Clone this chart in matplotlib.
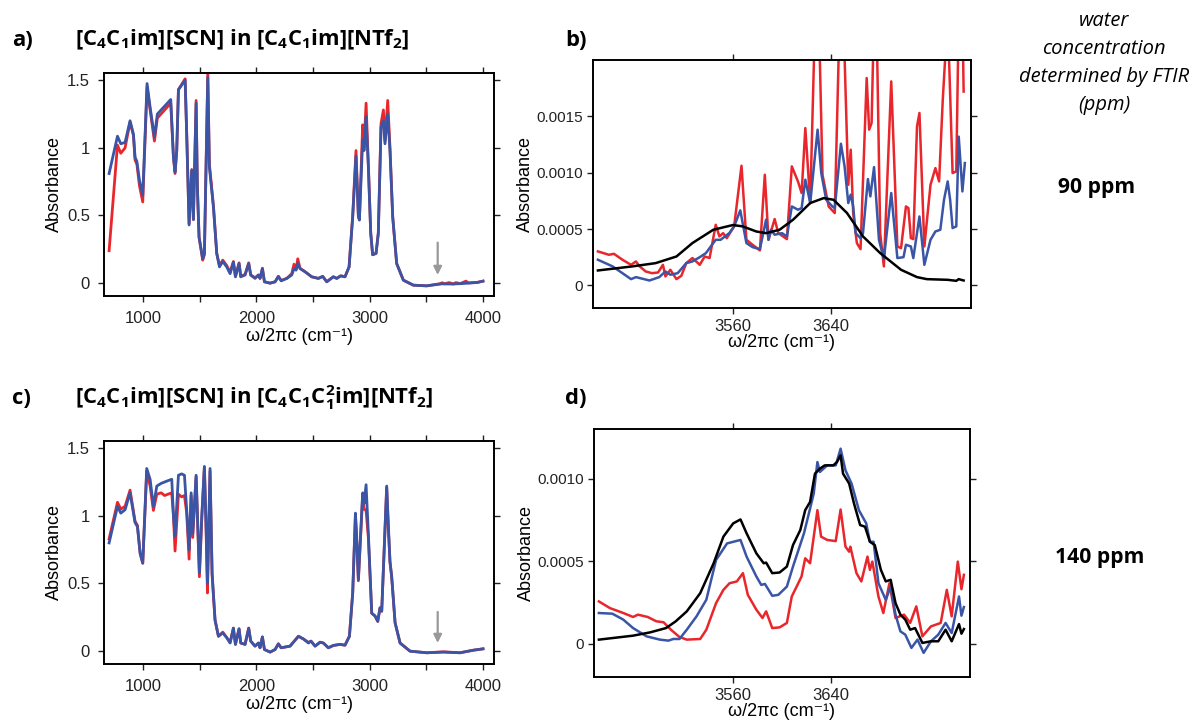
import numpy as np
import matplotlib
matplotlib.use('Agg')
import matplotlib.pyplot as plt

plt.rcParams['font.family'] = ['Liberation Sans', 'DejaVu Sans']
plt.rcParams['mathtext.fontset'] = 'custom'
plt.rcParams['mathtext.rm'] = 'Open Sans:bold'
plt.rcParams['mathtext.it'] = 'Open Sans:italic:bold'
plt.rcParams['mathtext.bf'] = 'Open Sans:bold'

RED = '#e8262b'
BLUE = '#3a55a6'

# ---- panel a: full spectrum, [C4C1im][NTf2] ----
a_wn = [700, 774, 803, 841, 885, 915, 929, 945, 968, 997, 1035, 1062, 1100, 1126,
        1244, 1268, 1282, 1297, 1312, 1371, 1385, 1406, 1429, 1444, 1468, 1479,
        1494, 1526, 1541, 1571, 1585, 1621, 1650, 1674, 1703, 1738, 1768, 1797,
        1815, 1847, 1862, 1900, 1932, 1950, 1988, 2018, 2032, 2053, 2071, 2121,
        2165, 2194, 2218, 2268, 2312, 2332, 2350, 2365, 2385, 2429, 2488, 2547,
        2585, 2621, 2679, 2709, 2744, 2782, 2818, 2850, 2879, 2900, 2909, 2938,
        2950, 2968, 2988, 3009, 3026, 3056, 3076, 3100, 3121, 3135, 3159, 3179,
        3203, 3238, 3297, 3385, 3503, 3621, 3640, 3660, 3700, 3738, 3760, 3800,
        3850, 3870, 3950, 4000]
a_blue = [0.81, 1.086, 1.03, 1.04, 1.20, 1.10, 0.93, 0.90, 0.76, 0.65, 1.475, 1.30,
          1.08, 1.25, 1.357, 0.93, 0.82, 0.98, 1.43, 1.50, 1.10, 0.43, 0.83, 0.47,
          1.33, 0.71, 0.34, 0.18, 0.22, 1.52, 0.86, 0.56, 0.22, 0.12, 0.16, 0.12,
          0.07, 0.155, 0.047, 0.145, 0.047, 0.06, 0.145, 0.06, 0.035, 0.06, 0.035,
          0.108, 0.01, 0.0, 0.01, 0.05, 0.017, 0.035, 0.06, 0.108, 0.096, 0.145,
          0.108, 0.084, 0.047, 0.035, 0.05, 0.01, 0.047, 0.035, 0.054, 0.047, 0.12,
          0.49, 0.94, 0.49, 0.466, 1.06, 0.98, 1.23, 0.86, 0.37, 0.21, 0.22, 0.37,
          1.155, 1.20, 1.03, 1.25, 0.98, 0.49, 0.145, 0.022, -0.015, -0.02, -0.007,
          -0.005, -0.006, -0.006, -0.007, -0.005, -0.004, -0.001, 0.0, 0.005, 0.015]
a_red = [0.24, 1.02, 0.96, 1.00, 1.19, 1.09, 0.91, 0.88, 0.72, 0.60, 1.45, 1.28,
         1.05, 1.22, 1.33, 0.93, 0.81, 0.98, 1.43, 1.51, 1.10, 0.44, 0.84, 0.47,
         1.35, 0.71, 0.34, 0.17, 0.21, 1.56, 0.88, 0.57, 0.22, 0.13, 0.17, 0.13,
         0.08, 0.16, 0.05, 0.15, 0.05, 0.065, 0.15, 0.06, 0.04, 0.06, 0.035,
         0.11, 0.01, 0.0, 0.01, 0.05, 0.02, 0.035, 0.07, 0.14, 0.10, 0.18,
         0.11, 0.085, 0.047, 0.035, 0.05, 0.01, 0.047, 0.035, 0.054, 0.047, 0.12,
         0.50, 0.98, 0.50, 0.47, 1.17, 1.00, 1.33, 0.88, 0.37, 0.21, 0.22, 0.37,
         1.18, 1.28, 1.05, 1.35, 1.00, 0.49, 0.145, 0.022, -0.015, -0.02, -0.004,
         0.003, -0.005, 0.004, -0.006, 0.004, -0.003, 0.015, 0.002, 0.006, 0.015]

# ---- panel b: water region, 90 ppm ----
b_black_wn = [3450, 3478, 3497, 3514, 3527, 3544, 3560, 3568, 3579, 3587, 3598, 3609,
              3623, 3634, 3642, 3653, 3666, 3680, 3697, 3710, 3718, 3735, 3742, 3744,
              3748]
b_black = [1.33, 1.69, 1.98, 2.57, 3.76, 4.94, 5.36, 5.24, 4.79, 4.64, 4.94, 5.83,
           7.31, 7.75, 7.60, 6.42, 4.35, 2.87, 1.39, 0.74, 0.56, 0.50, 0.41, 0.56,
           0.44]
b_blue_wn = [3450, 3462, 3477, 3481, 3492, 3500, 3505, 3509, 3515, 3522, 3527, 3533,
             3538, 3544, 3546, 3550, 3557, 3561, 3566, 3571, 3576, 3582, 3587, 3589,
             3591, 3594, 3600, 3604, 3608, 3613, 3616, 3619, 3623, 3629, 3632, 3636,
             3641, 3643, 3648, 3651, 3654, 3656, 3658, 3660, 3664, 3666, 3670, 3672,
             3675, 3679, 3683, 3689, 3694, 3699, 3701, 3705, 3707, 3712, 3716, 3721,
             3725, 3729, 3732, 3735, 3737, 3739, 3742, 3744, 3747, 3749]
b_blue = [2.28, 1.69, 0.56, 0.74, 0.44, 0.74, 1.24, 0.95, 1.09, 1.98, 2.13, 2.51,
          2.87, 3.76, 4.05, 4.05, 4.64, 5.24, 6.66, 3.76, 3.40, 3.22, 5.83, 4.05,
          4.94, 4.50, 4.64, 4.35, 7.01, 6.72, 6.86, 9.38, 7.31, 13.82, 9.97, 7.60,
          7.01, 6.86, 12.57, 10.56, 7.31, 8.05, 7.01, 4.64, 4.20, 4.64, 9.44, 7.90,
          10.50, 4.05, 2.34, 8.20, 2.43, 2.51, 3.61, 3.46, 2.43, 6.12, 1.83, 4.05,
          4.79, 4.94, 7.60, 9.23, 7.60, 5.09, 5.24, 13.2, 8.34, 10.86]
b_red_wn = [3450, 3459, 3463, 3470, 3477, 3481, 3484, 3489, 3494, 3499, 3503, 3505,
            3509, 3514, 3518, 3522, 3527, 3533, 3537, 3541, 3546, 3549, 3552, 3555,
            3561, 3567, 3571, 3576, 3582, 3586, 3589, 3594, 3597, 3604, 3608, 3613,
            3616, 3619, 3623, 3627, 3630, 3633, 3638, 3643, 3647, 3650, 3654, 3656,
            3658, 3661, 3664, 3669, 3671, 3673, 3675, 3677, 3680, 3683, 3689, 3694,
            3697, 3701, 3703, 3705, 3707, 3710, 3712, 3716, 3721, 3725, 3728, 3731,
            3735, 3739, 3742, 3744, 3747, 3748]
b_red = [3.02, 2.72, 2.81, 2.28, 1.83, 2.13, 1.69, 1.24, 1.09, 1.15, 1.83, 0.80,
         1.39, 0.56, 0.86, 1.98, 2.43, 1.83, 2.57, 2.43, 5.38, 4.35, 4.64, 4.20,
         5.24, 10.62, 4.05, 3.61, 3.11, 9.82, 4.05, 5.89, 4.64, 4.11, 10.56, 9.23,
         8.20, 13.96, 7.31, 24.0, 24.0, 9.82, 7.01, 6.42, 24.0, 24.0, 8.93, 12.04,
         6.42, 3.76, 3.22, 18.40, 13.82, 14.41, 24.0, 24.0, 4.64, 1.69, 18.1, 3.46,
         3.31, 7.01, 6.86, 4.20, 4.11, 14.11, 15.30, 3.46, 8.93, 10.41, 9.23, 16.48,
         24.0, 9.97, 10.12, 24.0, 24.0, 17.2]

# ---- panel c: full spectrum, [C4C1C1(2)im][NTf2] ----
c_wn = [700, 774, 803, 841, 885, 929, 950, 974, 997, 1032, 1062, 1091, 1121, 1160,
        1190, 1220, 1253, 1268, 1282, 1312, 1340, 1365, 1385, 1406, 1424, 1438,
        1468, 1485, 1497, 1518, 1541, 1556, 1568, 1591, 1609, 1635, 1665, 1703,
        1738, 1768, 1797, 1815, 1847, 1862, 1900, 1932, 1950, 1988, 2018, 2032,
        2053, 2071, 2121, 2165, 2194, 2218, 2297, 2371, 2415, 2459, 2482, 2518,
        2562, 2591, 2635, 2679, 2738, 2782, 2821, 2850, 2874, 2885, 2900, 2938,
        2950, 2968, 2988, 3018, 3047, 3071, 3091, 3106, 3150, 3165, 3179, 3194,
        3224, 3268, 3356, 3503, 3650, 3797, 3915, 4000]
c_blue = [0.80, 1.07, 1.02, 1.045, 1.17, 0.95, 0.92, 0.725, 0.65, 1.35, 1.27, 1.07,
          1.22, 1.24, 1.25, 1.26, 1.27, 1.00, 0.85, 1.30, 1.31, 1.30, 1.04, 0.75,
          1.17, 0.87, 1.30, 0.87, 0.58, 1.00, 1.365, 0.92, 0.50, 1.35, 0.58, 0.23,
          0.11, 0.135, 0.10, 0.06, 0.17, 0.05, 0.165, 0.06, 0.05, 0.17, 0.074, 0.037,
          0.06, 0.025, 0.105, 0.012, -0.007, 0.012, 0.054, 0.025, 0.037, 0.11, 0.09,
          0.06, 0.074, 0.037, 0.066, 0.06, 0.025, 0.042, 0.05, 0.044, 0.11, 0.43,
          1.02, 0.85, 0.53, 1.17, 1.09, 1.23, 0.87, 0.28, 0.26, 0.22, 0.32, 0.295,
          1.22, 0.92, 0.66, 0.55, 0.21, 0.06, 0.0, -0.012, -0.007, -0.012, 0.007, 0.017]
c_red = [0.83, 1.10, 1.05, 1.07, 1.19, 0.96, 0.93, 0.72, 0.65, 1.33, 1.22, 1.04,
         1.16, 1.17, 1.15, 1.16, 1.17, 1.00, 0.74, 1.16, 1.14, 1.15, 1.02, 0.68,
         1.15, 0.84, 1.29, 0.85, 0.55, 0.98, 1.36, 0.90, 0.43, 1.33, 0.56, 0.23,
         0.11, 0.14, 0.10, 0.065, 0.17, 0.05, 0.165, 0.06, 0.05, 0.17, 0.074, 0.037,
         0.06, 0.025, 0.105, 0.012, -0.007, 0.012, 0.054, 0.025, 0.037, 0.11, 0.09,
         0.065, 0.074, 0.037, 0.066, 0.06, 0.025, 0.042, 0.05, 0.044, 0.11, 0.43,
         1.00, 0.82, 0.52, 1.15, 1.05, 1.04, 0.84, 0.28, 0.26, 0.22, 0.32, 0.295,
         1.21, 0.90, 0.66, 0.55, 0.21, 0.06, 0.0, -0.012, -0.005, -0.012, 0.007, 0.017]

# ---- panel d: water region, 140 ppm ----
d_black_wn = [3450, 3478, 3492, 3505, 3513, 3522, 3533, 3544, 3552, 3560, 3566, 3571,
              3579, 3585, 3587, 3592, 3598, 3604, 3609, 3615, 3619, 3623, 3627, 3631,
              3635, 3642, 3645, 3648, 3650, 3655, 3659, 3664, 3668, 3672, 3676, 3681,
              3685, 3689, 3693, 3697, 3701, 3705, 3709, 3715, 3722, 3728, 3734, 3739,
              3745, 3747, 3749]
d_black = [0.26, 0.50, 0.70, 0.96, 1.37, 1.97, 3.07, 4.88, 6.49, 7.29, 7.53, 6.69,
           5.48, 4.88, 4.92, 4.28, 4.32, 4.68, 5.98, 6.89, 8.09, 8.59, 10.30, 10.60,
           10.80, 10.80, 11.00, 11.41, 10.30, 9.70, 8.49, 7.19, 7.09, 6.18, 5.98, 4.48,
           3.78, 3.88, 2.47, 1.77, 1.47, 0.86, 0.96, 0.06, 0.16, 0.16, 0.86, 0.16,
           1.20, 0.62, 0.90]
d_blue_wn = [3450, 3461, 3470, 3478, 3489, 3500, 3507, 3511, 3516, 3522, 3530, 3538,
             3546, 3555, 3566, 3571, 3579, 3583, 3586, 3592, 3597, 3604, 3609, 3618,
             3623, 3626, 3629, 3631, 3637, 3644, 3648, 3652, 3657, 3663, 3669, 3672,
             3675, 3679, 3685, 3689, 3693, 3697, 3701, 3706, 3711, 3716, 3722, 3728,
             3734, 3739, 3745, 3747, 3749]
d_blue = [1.87, 1.83, 1.47, 0.96, 0.46, 0.26, 0.20, 0.30, 0.30, 0.86, 1.67, 2.67,
          5.08, 6.08, 6.29, 5.28, 4.08, 3.57, 3.63, 2.91, 2.97, 3.47, 4.68, 6.69,
          8.19, 9.10, 11.00, 10.40, 10.80, 10.80, 11.81, 10.50, 9.70, 8.09, 7.29, 6.18,
          6.18, 3.67, 2.67, 3.47, 1.77, 0.76, 0.56, -0.24, 0.26, -0.54, 0.16, 0.56,
          1.27, 0.66, 2.87, 1.71, 2.23]
d_red_wn = [3450, 3459, 3470, 3478, 3482, 3490, 3497, 3503, 3509, 3516, 3522, 3533,
            3538, 3546, 3552, 3557, 3563, 3568, 3572, 3579, 3584, 3587, 3592, 3598,
            3604, 3608, 3612, 3616, 3619, 3623, 3629, 3632, 3637, 3644, 3648, 3652,
            3655, 3656, 3661, 3665, 3670, 3672, 3674, 3679, 3683, 3688, 3693, 3700,
            3705, 3710, 3715, 3722, 3730, 3735, 3739, 3744, 3747, 3749]
d_red = [2.57, 2.17, 1.87, 1.63, 1.77, 1.63, 1.37, 1.31, 0.86, 0.42, 0.26, 0.30,
         0.86, 2.47, 3.27, 3.67, 3.78, 4.28, 2.97, 2.07, 1.57, 1.97, 0.96, 1.00,
         1.27, 2.87, 3.47, 4.08, 5.18, 4.88, 8.09, 6.49, 6.29, 6.22, 8.13, 5.88,
         5.58, 5.88, 4.28, 3.78, 5.28, 4.48, 4.98, 2.87, 1.87, 3.67, 1.57, 1.77,
         1.27, 2.27, 0.46, 1.06, 1.27, 3.27, 1.67, 4.98, 3.31, 4.18]

W, H = 1194, 721
fig = plt.figure(figsize=(W / 100, H / 100), dpi=100)


def box(l, t, r, b):
    return [l / W, 1 - b / H, (r - l) / W, (b - t) / H]


def style(ax, pad_x, pad_y):
    for s in ax.spines.values():
        s.set_linewidth(1.4)
    ax.tick_params(which='both', direction='out', top=True, right=True, length=4,
                   width=1.0, labelsize=12, colors='#222222')
    ax.tick_params(axis='x', pad=pad_x)
    ax.tick_params(axis='y', pad=pad_y)


def full_panel(ax, wn, blue, red, arrow_top):
    ax.plot(wn, red, color=RED, lw=2.0)
    ax.plot(wn, blue, color=BLUE, lw=2.0)
    ax.annotate('', xy=(3600, 0.04), xytext=(3600, arrow_top),
                arrowprops=dict(arrowstyle='-|>', color='#999999', lw=1.6,
                                mutation_scale=12))
    ax.set_xlim(655, 4097)
    ax.set_ylim(-0.095, 1.553)
    ax.set_xticks([1000, 2000, 3000, 4000])
    ax.set_xticks([1500, 2500, 3500], minor=True)
    ax.set_yticks([0, 0.5, 1, 1.5])
    ax.set_yticklabels(['0', '0.5', '1', '1.5'])
    style(ax, 7, 6)
    ax.set_xlabel('ω/2πc (cm⁻¹)', fontsize=13, labelpad=1)
    ax.set_ylabel('Absorbance', fontsize=13, labelpad=3)


def zoom_panel(ax, series, ymax, yticks, ylabels):
    for wn, vals, col in series:
        ax.plot(wn, np.array(vals) * 1e-4, color=col, lw=1.8)
    ax.set_xlim(3446, 3754)
    ax.set_ylim(-0.0002, ymax)
    ax.set_xticks([3560, 3640])
    ax.set_yticks(yticks)
    ax.set_yticklabels(ylabels)
    style(ax, 4, 3)
    ax.tick_params(axis='y', labelsize=11)
    ax.set_xlabel('ω/2πc (cm⁻¹)', fontsize=13, labelpad=0)
    ax.set_ylabel('Absorbance', fontsize=13, labelpad=2)


ax_a = fig.add_axes(box(104, 73, 494, 296))
full_panel(ax_a, a_wn, a_blue, a_red, 0.32)

ax_c = fig.add_axes(box(104, 441, 494, 664))
full_panel(ax_c, c_wn, c_blue, c_red, 0.31)

ax_b = fig.add_axes(box(593, 60, 971, 308))
zoom_panel(ax_b, [(b_red_wn, b_red, RED), (b_blue_wn, b_blue, BLUE),
                  (b_black_wn, b_black, 'black')],
           0.002, [0, 0.0005, 0.001, 0.0015], ['0', '0.0005', '0.0010', '0.0015'])

ax_d = fig.add_axes(box(594, 429, 970, 677))
zoom_panel(ax_d, [(d_red_wn, d_red, RED), (d_blue_wn, d_blue, BLUE),
                  (d_black_wn, d_black, 'black')],
           0.0013, [0, 0.0005, 0.001], ['0', '0.0005', '0.0010'])

# panel letters and titles
bold = dict(family='Open Sans', fontweight='bold', fontsize=15.8, va='center')
fig.text(12 / W, 1 - 40 / H, 'a)', **bold)
fig.text(75 / W, 1 - 40 / H, r'[C$_4$C$_1$im][SCN] in [C$_4$C$_1$im][NTf$_2$]', **bold)
fig.text(565 / W, 1 - 40 / H, 'b)', **bold)
fig.text(12 / W, 1 - 398 / H, 'c)', **bold)
fig.text(75 / W, 1 - 398 / H,
         r'[C$_4$C$_1$im][SCN] in [C$_4$C$_1$C$_1^2$im][NTf$_2$]', **bold)
fig.text(565 / W, 1 - 398 / H, 'd)', **bold)

# right-hand annotations
side = ['water', 'concentration', 'determined by FTIR', '(ppm)']
side_y = [21, 49, 77, 105]
for txt, yy in zip(side, side_y):
    fig.text(1104 / W, 1 - yy / H, txt, family='Open Sans', style='italic',
             fontsize=14.5, ha='center', va='center')
fig.text(1097 / W, 1 - 187 / H, '90 ppm', family='Open Sans', fontweight='bold',
         fontsize=15.2, ha='center', va='center')
fig.text(1100 / W, 1 - 557 / H, '140 ppm', family='Open Sans', fontweight='bold',
         fontsize=15.2, ha='center', va='center')

fig.savefig('out.png', dpi=100)
